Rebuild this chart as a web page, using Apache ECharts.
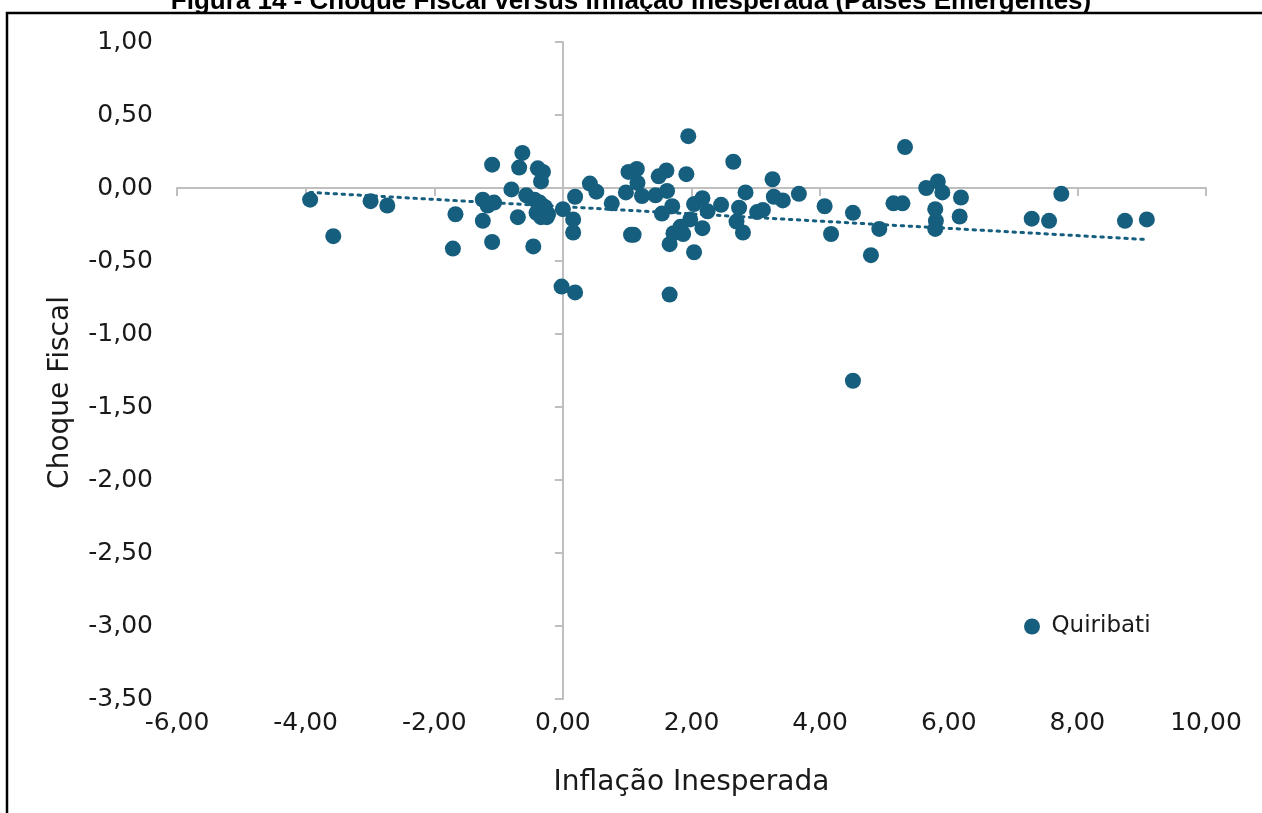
<!DOCTYPE html>
<html lang="pt">

<head>
    <meta charset="UTF-8">
    <title>Choque Fiscal versus Inflação Inesperada</title>
    <script src="https://cdn.jsdelivr.net/npm/echarts@6/dist/echarts.min.js"></script>
    <style>
        html, body { margin: 0; padding: 0; background: #fff; }
    </style>
</head>

<body>
    <div id="main" style="width: 1262px;height:813px;"></div>

    <script type="text/javascript">
        // inflação inesperada (eixo x) e choque fiscal (eixo y)
        const inflacao = [
            -3.93, -3.57, -2.99, -2.73, -1.67, -1.71, -1.245, -1.245, -1.10, -1.17,
            -1.07, -1.10, -0.80, -0.63, -0.68, -0.70, -0.57, -0.46, -0.39, -0.31,
            -0.34, -0.44, -0.36, -0.28, -0.41, -0.23, -0.34, -0.25, 0.00, -0.02,
            0.19, 0.19, 0.16, 0.16, 0.42, 0.52, 0.76, 0.98, 1.02, 1.15,
            1.16, 1.23, 1.06, 1.10, 1.44, 1.49, 1.61, 1.62, 1.70, 1.54,
            1.66, 1.66, 1.72, 1.83, 1.87, 1.95, 1.92, 1.98, 2.04, 2.17,
            2.17, 2.04, 2.25, 2.46, 2.65, 2.74, 2.70, 2.80, 2.84, 3.02,
            3.11, 3.26, 3.28, 3.42, 3.67, 4.07, 4.17, 4.51, 4.51, 4.79,
            4.92, 5.14, 5.28, 5.32, 5.65, 5.83, 5.90, 5.79, 5.80, 5.79,
            6.19, 6.17, 7.29, 7.56, 7.75, 8.74, 9.08
        ];
        const choque = [
            -0.08, -0.33, -0.09, -0.12, -0.18, -0.415, -0.08, -0.225, 0.16, -0.12,
            -0.10, -0.37, -0.01, 0.24, 0.14, -0.20, -0.05, -0.40, 0.135, 0.11,
            0.045, -0.08, -0.10, -0.13, -0.17, -0.18, -0.20, -0.20, -0.145, -0.675,
            -0.715, -0.06, -0.215, -0.305, 0.03, -0.025, -0.105, -0.03, 0.11, 0.13,
            0.035, -0.055, -0.32, -0.32, -0.05, 0.08, 0.12, -0.02, -0.125, -0.175,
            -0.385, -0.73, -0.31, -0.265, -0.315, 0.355, 0.095, -0.215, -0.11, -0.07,
            -0.275, -0.44, -0.16, -0.115, 0.18, -0.135, -0.23, -0.305, -0.03, -0.165,
            -0.15, 0.06, -0.06, -0.085, -0.04, -0.125, -0.315, -0.17, -1.32, -0.46,
            -0.28, -0.105, -0.105, 0.28, 0.00, 0.045, -0.03, -0.145, -0.225, -0.28,
            -0.065, -0.195, -0.21, -0.225, -0.04, -0.225, -0.215
        ];
        // linha de tendência (extremos)
        const tendenciaX = [-3.93, 9.08];
        const tendenciaY = [-0.03, -0.353];

        const serieNome = 'Quiribati';
        const titulo = 'Figura 14 - Choque Fiscal versus Inflação Inesperada (Países Emergentes)';

        const cor = '#165e7d';
        const cinza = '#bfbfbf';
        const fonte = 'DejaVu Sans';
        const fmt = (v) => v.toFixed(2).replace('.', ',');

        var myChart = echarts.init(document.getElementById('main'));

        const pontos = inflacao.map((x, i) => [x, choque[i]]);
        const tendencia = tendenciaX.map((x, i) => [x, tendenciaY[i]]);

        const option = {
            animation: false,
            textStyle: { fontFamily: fonte },
            title: {
                text: titulo,
                left: 'center',
                top: -16,
                textStyle: { fontFamily: 'Liberation Sans', fontWeight: 'bold', fontSize: 26, color: '#000' }
            },
            graphic: [{
                type: 'polyline',
                z: -10,
                shape: { points: [[7, 900], [7, 13], [1300, 13]] },
                style: { fill: 'none', stroke: '#000', lineWidth: 2.5 }
            }],
            legend: {
                data: [serieNome],
                left: 1019,
                top: 610,
                icon: 'circle',
                itemWidth: 21,
                itemHeight: 16,
                textStyle: { fontFamily: fonte, fontSize: 23, color: '#1a1a1a', padding: [0, 0, 0, 4] }
            },
            grid: { left: 177, right: 56, top: 42, bottom: 114, containLabel: false },
            xAxis: [
                {
                    type: 'value', min: -6, max: 10, interval: 2, position: 'bottom',
                    axisLine: { show: false, onZero: false },
                    axisTick: { show: false },
                    splitLine: { show: false },
                    axisLabel: { fontSize: 25, color: '#1a1a1a', margin: 12, formatter: fmt },
                    name: 'Inflação Inesperada',
                    nameLocation: 'middle',
                    nameGap: 70,
                    nameTextStyle: { fontSize: 28, color: '#1a1a1a' }
                },
                {
                    type: 'value', min: -6, max: 10, interval: 2, position: 'bottom',
                    axisLine: { show: true, onZero: true, onZeroAxisIndex: 1, lineStyle: { color: cinza, width: 2 } },
                    axisTick: { show: true, length: 8, lineStyle: { color: cinza, width: 2 } },
                    splitLine: { show: false },
                    axisLabel: { show: false }
                }
            ],
            yAxis: [
                {
                    type: 'value', min: -3.5, max: 1, interval: 0.5, position: 'left',
                    axisLine: { show: false, onZero: false },
                    axisTick: { show: false },
                    splitLine: { show: false },
                    axisLabel: { fontSize: 25, color: '#1a1a1a', margin: 24, formatter: fmt },
                    name: 'Choque Fiscal',
                    nameLocation: 'middle',
                    nameRotate: 90,
                    nameGap: 102,
                    nameTextStyle: { fontSize: 28, color: '#1a1a1a', padding: [0, 44, 0, 0] }
                },
                {
                    type: 'value', min: -3.5, max: 1, interval: 0.5, position: 'left',
                    axisLine: { show: true, onZero: true, onZeroAxisIndex: 1, lineStyle: { color: cinza, width: 2 } },
                    axisTick: { show: true, length: 8, lineStyle: { color: cinza, width: 2 } },
                    splitLine: { show: false },
                    axisLabel: { show: false }
                }
            ],
            series: [
                {
                    name: 'tendencia',
                    type: 'line',
                    xAxisIndex: 0,
                    yAxisIndex: 0,
                    data: tendencia,
                    symbol: 'none',
                    silent: true,
                    z: 1,
                    lineStyle: { color: cor, width: 3, type: [2.5, 5.5], cap: 'round' }
                },
                {
                    name: serieNome,
                    type: 'scatter',
                    xAxisIndex: 0,
                    yAxisIndex: 0,
                    data: pontos,
                    symbolSize: 16,
                    z: 2,
                    itemStyle: { color: cor, opacity: 1 }
                }
            ]
        };

        myChart.setOption(option);
    </script>
</body>

</html>
